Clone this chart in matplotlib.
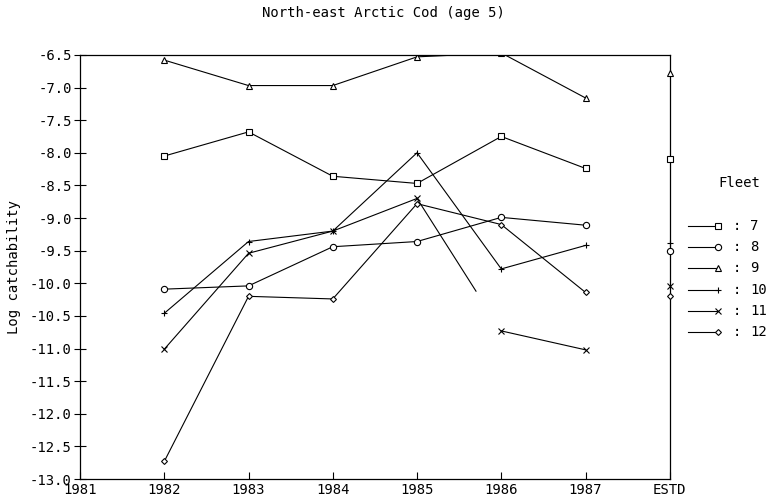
import numpy as np
import matplotlib
matplotlib.use("Agg")
from matplotlib import pyplot as plt
from matplotlib.lines import Line2D

plt.rcParams['font.family'] = ['DejaVu Sans Mono']
plt.rcParams['font.size'] = 10

# year positions, ESTD sits one step after 1987
years = [1982, 1983, 1984, 1985, 1986, 1987]
estd_pos = 1988
tick_pos = [1981, 1982, 1983, 1984, 1985, 1986, 1987, 1988]
tick_labels = ['1981', '1982', '1983', '1984', '1985', '1986', '1987', 'ESTD']

fleets = ['7', '8', '9', '10', '11', '12']
markers = ['s', 'o', '^', '+', 'x', 'D']

f7 = [-8.05, -7.68, -8.36, -8.47, -7.75, -8.24]
f8 = [-10.09, -10.04, -9.44, -9.36, -8.99, -9.11]
f9 = [-6.58, -6.97, -6.97, -6.53, -6.47, -7.16]
f10 = [-10.46, -9.36, -9.20, -8.00, -9.78, -9.42]
f11 = [-11.01, -9.54, -9.20, -8.70, -10.73, -11.02]
f12 = [-12.73, -10.20, -10.24, -8.78, -9.10, -10.14]
series = [f7, f8, f9, f10, f11, f12]

estd = [-8.10, -9.50, -6.78, -9.39, -10.04, -10.20]

# fleet 11: the 1985-1986 segment is only partly drawn in the original
f11_gap = 0.7


def msize(m):
    return 3 if m == 'D' else 4.5


fig = plt.figure(figsize=(7.77, 4.99), dpi=100)
ax = fig.add_axes([0.103, 0.040, 0.759, 0.850])

for name, vals, m in zip(fleets, series, markers):
    style = dict(color='black', lw=0.8, marker=m, ms=msize(m),
                 mfc='white', mec='black', mew=0.8)
    if name == '11':
        ax.plot(years[:4], vals[:4], **style)
        ax.plot(years[4:], vals[4:], **style)
        xe = years[3] + f11_gap
        ye = np.interp(xe, years[3:5], vals[3:5])
        ax.plot([years[3], xe], [vals[3], ye], color='black', lw=0.8)
    else:
        ax.plot(years, vals, **style)
    ax.plot([estd_pos], [estd[fleets.index(name)]], marker=m, ms=msize(m),
            mfc='white', mec='black', mew=0.8, clip_on=False, zorder=5)

ax.set_xlim(1981, 1988)
ax.set_ylim(-13.0, -6.5)
ax.set_xticks(tick_pos)
ax.set_xticklabels(tick_labels)
ax.set_yticks(np.arange(-13.0, -6.49, 0.5))
ax.set_yticklabels(['%.1f' % v for v in np.arange(-13.0, -6.49, 0.5)])
ax.tick_params(axis='x', direction='in', length=5, width=0.8, pad=3)
ax.tick_params(axis='y', direction='inout', length=8, width=0.8, pad=2)
for s in ax.spines.values():
    s.set_linewidth(0.9)

ax.set_ylabel('Log catchability', labelpad=6)
fig.text(0.493, 0.974, 'North-east Arctic Cod (age 5)', ha='center', va='center')

# legend drawn by hand: line with the marker at its right end
fig.text(0.951, 0.633, 'Fleet', ha='center', va='center')
for i, (name, m) in enumerate(zip(fleets, markers)):
    yy = 1 - (226 + i * 21.2) / 499
    fig.add_artist(Line2D([688 / 777, 718 / 777], [yy, yy], color='black', lw=0.8,
                          transform=fig.transFigure))
    fig.add_artist(Line2D([718 / 777], [yy], marker=m, ms=msize(m), mfc='white',
                          mec='black', mew=0.8, transform=fig.transFigure))
    fig.text(737 / 777, yy, ':', ha='center', va='center')
    fig.text(750 / 777, yy, name, ha='left', va='center')

fig.savefig('out.png', dpi=100)
